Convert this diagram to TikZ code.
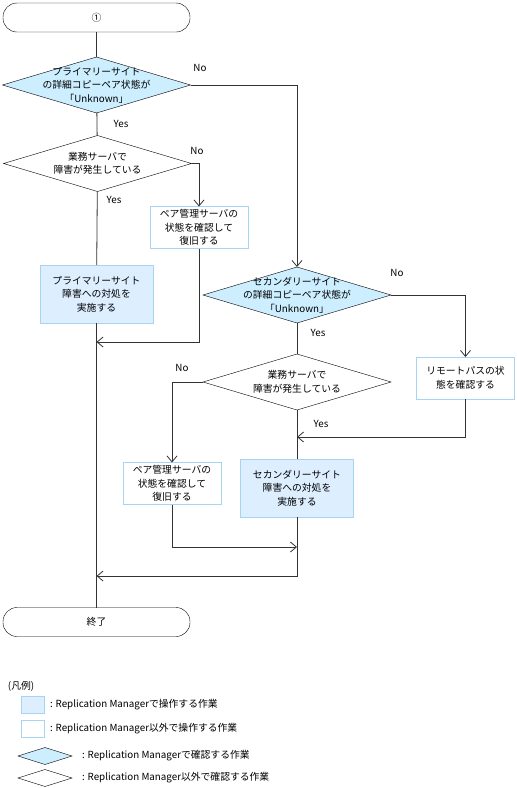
\documentclass[tikz,border=0pt]{standalone}
\usepackage{fontspec}
\setmainfont{Noto Sans CJK JP}
\usetikzlibrary{shapes.geometric,arrows.meta}

\definecolor{rmdia}{HTML}{CCEEFF}
\definecolor{rmbox}{HTML}{DDEEFF}
\definecolor{rmline}{HTML}{A8D4F4}
\definecolor{flow}{HTML}{333333}

\tikzset{
  every node/.style={font=\fontsize{9.8}{13.5}\selectfont, align=center, inner sep=0pt, outer sep=0pt},
  term/.style={draw=black, fill=white, rounded corners=14pt, minimum width=187pt, minimum height=29pt},
  dia/.style={draw=black, diamond, minimum width=188pt, minimum height=56pt},
  rmdiamond/.style={dia, fill=rmdia},
  opbox/.style={draw=rmline, fill=white, minimum width=98pt, minimum height=42pt},
  rmopbox/.style={draw=rmline, fill=rmbox, minimum width=113pt, minimum height=58pt},
  flowline/.style={draw=flow, line width=0.8pt},
  arr/.style={flowline, -{Straight Barb[length=6pt, width=10pt]}},
}

\begin{document}
\begin{tikzpicture}[x=1pt, y=-1pt]
\useasboundingbox (0,0) rectangle (517,788);

% flow
\node[term] (start) at (96.5,17.5) {①};
\node[rmdiamond] (d1) at (96.5,85) {};
\node (d1t) at (d1) {プライマリーサイト\\の詳細コピーペア状態が\\「Unknown」};
\node[dia] (d2) at (97.5,163.5) {};
\node (d2t) at (d2) {業務サーバで\\障害が発生している};
\node[opbox] (b1) at (199,227.5) {ペア管理サーバの\\状態を確認して\\復旧する};
\node[rmopbox] (b2) at (96.5,294) {プライマリーサイト\\障害への対処を\\実施する};
\node[rmdiamond] (d3) at (297,295) {};
\node (d3t) at (d3) {セカンダリーサイト\\の詳細コピーペア状態が\\「Unknown」};
\node[dia] (d4) at (297,382) {};
\node (d4t) at (d4) {業務サーバで\\障害が発生している};
\node[opbox] (b3) at (465.5,378) {リモートパスの状\\態を確認する};
\node[opbox] (b4) at (172,483.5) {ペア管理サーバの\\状態を確認して\\復旧する};
\node[rmopbox] (b5) at (297,488) {セカンダリーサイト\\障害への対処を\\実施する};
\node[term] (end) at (96.5,622) {終了};

\coordinate (m1) at (96.5,342);
\coordinate (m2) at (297,437);
\coordinate (m3) at (297,547);
\coordinate (m4) at (96.5,576);

\draw[flowline] (start) -- (d1);
\draw[flowline] (d1) -- (d2);
\draw[flowline] (d2) -- (b2);
\draw[flowline] (b2) -- (end);
\draw[arr] (d1.east) -| (d3.north);
\draw[arr] (d2.east) -| (b1.north);
\draw[arr] (b1.south) |- (m1);
\draw[flowline] (d3) -- (d4);
\draw[arr] (d3.east) -| (b3.north);
\draw[arr] (d4.west) -| (b4.north);
\draw[arr] (b3.south) |- (m2);
\draw[flowline] (d4) -- (b5);
\draw[arr] (b4.south) |- (m3);
\draw[arr] (b5.south) |- (m4);

\node (no1) at (200,68) {No};
\node (yes1) at (121,124) {Yes};
\node (no2) at (197,151) {No};
\node (yes2) at (114,200) {Yes};
\node (no3) at (397,273) {No};
\node (yes3) at (318,333) {Yes};
\node (no4) at (182,368) {No};
\node (yes4) at (321,424) {Yes};

% legend
\node[anchor=west] (lg) at (8,686) {(凡例)};
\node[draw=rmline, fill=rmbox, minimum width=23pt, minimum height=17pt] (lg1) at (32.5,704.5) {};
\node[anchor=west] (lg1t) at (50,705) {: Replication Managerで操作する作業};
\node[draw=rmline, fill=white, minimum width=23pt, minimum height=17pt] (lg2) at (32.5,728.5) {};
\node[anchor=west] (lg2t) at (50,729) {: Replication Manager以外で操作する作業};
\node[draw=black, fill=rmdia, diamond, minimum width=54pt, minimum height=17pt] (lg3) at (45,756) {};
\node[anchor=west] (lg3t) at (82,756) {: Replication Managerで確認する作業};
\node[draw=black, fill=white, diamond, minimum width=54pt, minimum height=17pt] (lg4) at (45,778) {};
\node[anchor=west] (lg4t) at (82,778) {: Replication Manager以外で確認する作業};
\end{tikzpicture}
\end{document}
